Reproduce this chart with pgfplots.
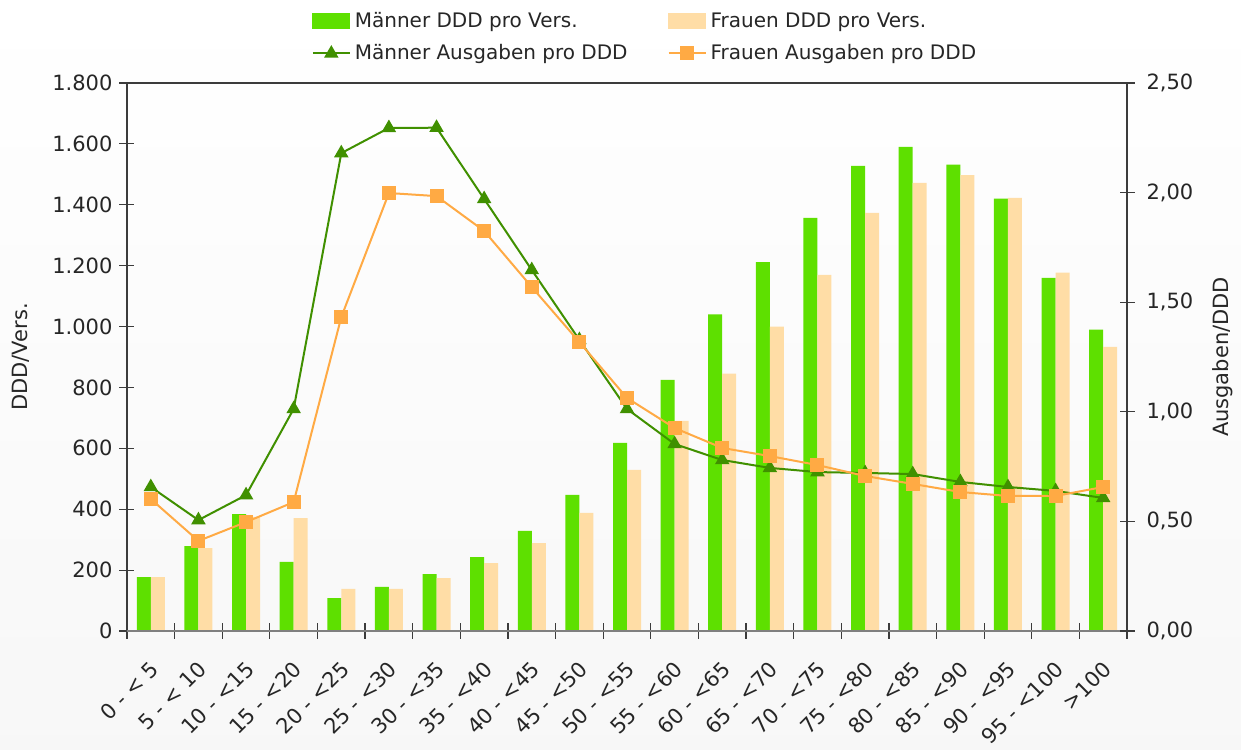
\documentclass[border=0pt]{standalone}
\usepackage{fontspec}
\setmainfont{DejaVu Sans}
\usepackage{pgfplots}
\pgfplotsset{compat=1.18}
\definecolor{mbar}{RGB}{94,224,0}
\definecolor{fbar}{RGB}{255,221,166}
\definecolor{mline}{RGB}{64,144,0}
\definecolor{fline}{RGB}{255,170,68}
\definecolor{axc}{RGB}{60,60,60}
\begin{document}
\begin{tikzpicture}
\shade[top color=white, bottom color=black!3] (-63.5pt,-59pt) rectangle (557pt,315.5pt);
\begin{axis}[
  at={(0,0)}, anchor=south west, scale only axis,
  width=500pt, height=274pt,
  xmin=-0.5, xmax=20.5, ymin=0, ymax=1800,
  ybar=0pt, bar width=7pt,
  axis line style={axc, line width=0.6pt},
  xtick={0,...,20},
  xticklabels={0 - < 5,5 - < 10,10 - <15,15 - <20,20 - <25,25 - <30,30 - <35,35 - <40,40 - <45,45 - <50,50 - <55,55 - <60,60 - <65,65 - <70,70 - <75,75 - <80,80 - <85,85 - <90,90 - <95,95 - <100,>100},
  major x tick style={draw=none},
  minor xtick={-0.5,0.5,...,20.5},
  minor x tick style={axc, line width=0.6pt},
  minor tick length=7.5pt,
  xtick pos=bottom, ytick pos=left,
  tick align=center,
  major tick length=7.5pt,
  ytick={0,200,...,1800},
  scaled y ticks=false,
  yticklabel style={/pgf/number format/.cd, 1000 sep={.}, assume math mode=true},
  every tick label/.append style={font=\fontsize{10.5}{12}\selectfont, text=black!85},
  xticklabel style={rotate=45, anchor=east, yshift=-11pt, xshift=-4.6pt},
  tick style={axc, line width=0.6pt},
  ylabel={DDD/Vers.},
  every axis y label/.style={at={([xshift=-53pt]axis description cs:0,0.5)}, rotate=90, anchor=center, font=\fontsize{10.5}{12}\selectfont, text=black!85},
]
\addplot[fill=mbar, draw=none] coordinates {(0,177) (1,279) (2,384) (3,227) (4,108) (5,145) (6,187) (7,243) (8,329) (9,447) (10,618) (11,825) (12,1040) (13,1212) (14,1357) (15,1528) (16,1590) (17,1532) (18,1420) (19,1160) (20,990)};
\addplot[fill=fbar, draw=none] coordinates {(0,177) (1,272) (2,375) (3,371) (4,138) (5,138) (6,174) (7,223) (8,289) (9,388) (10,529) (11,690) (12,845) (13,1000) (14,1170) (15,1373) (16,1472) (17,1497) (18,1423) (19,1177) (20,933)};
\draw[black!50, line width=1.5pt] ([xshift=-3.5pt]rel axis cs:0,0) -- ([xshift=4pt]rel axis cs:1,0);
\end{axis}
\begin{axis}[
  at={(0,0)}, anchor=south west, scale only axis,
  width=500pt, height=274pt,
  xmin=-0.5, xmax=20.5, ymin=0, ymax=2.5,
  axis x line=none, axis y line*=right,
  axis line style={axc, line width=0.6pt},
  tick style={axc, line width=0.6pt},
  tick align=center, major tick length=7.5pt,
  ytick={0,0.5,...,2.5},
  yticklabel style={/pgf/number format/.cd, fixed, fixed zerofill, precision=2, use comma, assume math mode=true},
  every tick label/.append style={font=\fontsize{10.5}{12}\selectfont, text=black!85, xshift=2.5pt},
  ylabel={Ausgaben/DDD},
  every axis y label/.style={at={([xshift=48pt]axis description cs:1,0.5)}, rotate=90, anchor=center, font=\fontsize{10.5}{12}\selectfont, text=black!85},
  legend columns=2,
  legend cell align=left,
  legend style={at={(0.519,1)}, anchor=south, yshift=6pt, draw=none, fill=none,
    font=\fontsize{10}{12}\selectfont, text=black!85, row sep=3pt,
    /tikz/every even column/.append style={column sep=18pt}},
  legend image code/.code={\draw[mark repeat=2,mark phase=2,#1] plot coordinates {(0pt,0pt) (9.25pt,0pt) (18.5pt,0pt)};},
]
\addlegendimage{legend image code/.code={\fill[mbar] (0pt,-3.75pt) rectangle (18.5pt,3.75pt);}}
\addlegendentry{Männer DDD pro Vers.}
\addlegendimage{legend image code/.code={\fill[fbar] (0pt,-3.75pt) rectangle (18.5pt,3.75pt);}}
\addlegendentry{Frauen DDD pro Vers.}
\addplot[mline, line width=1pt, mark=triangle*, mark size=3.2pt, mark options={solid}] coordinates {(0,0.657) (1,0.506) (2,0.620) (3,1.013) (4,2.180) (5,2.295) (6,2.296) (7,1.971) (8,1.647) (9,1.328) (10,1.013) (11,0.853) (12,0.780) (13,0.744) (14,0.725) (15,0.721) (16,0.716) (17,0.680) (18,0.657) (19,0.639) (20,0.607)};
\addlegendentry{Männer Ausgaben pro DDD}
\addplot[fline, line width=1pt, mark=square*, mark size=3pt, mark options={solid}] coordinates {(0,0.602) (1,0.411) (2,0.497) (3,0.588) (4,1.432) (5,1.998) (6,1.984) (7,1.825) (8,1.569) (9,1.318) (10,1.063) (11,0.926) (12,0.835) (13,0.798) (14,0.757) (15,0.707) (16,0.671) (17,0.634) (18,0.616) (19,0.616) (20,0.657)};
\addlegendentry{Frauen Ausgaben pro DDD}
\end{axis}
\pgfresetboundingbox
\path (-63.5pt,-59pt) rectangle (557pt,315.5pt);
\end{tikzpicture}
\end{document}
